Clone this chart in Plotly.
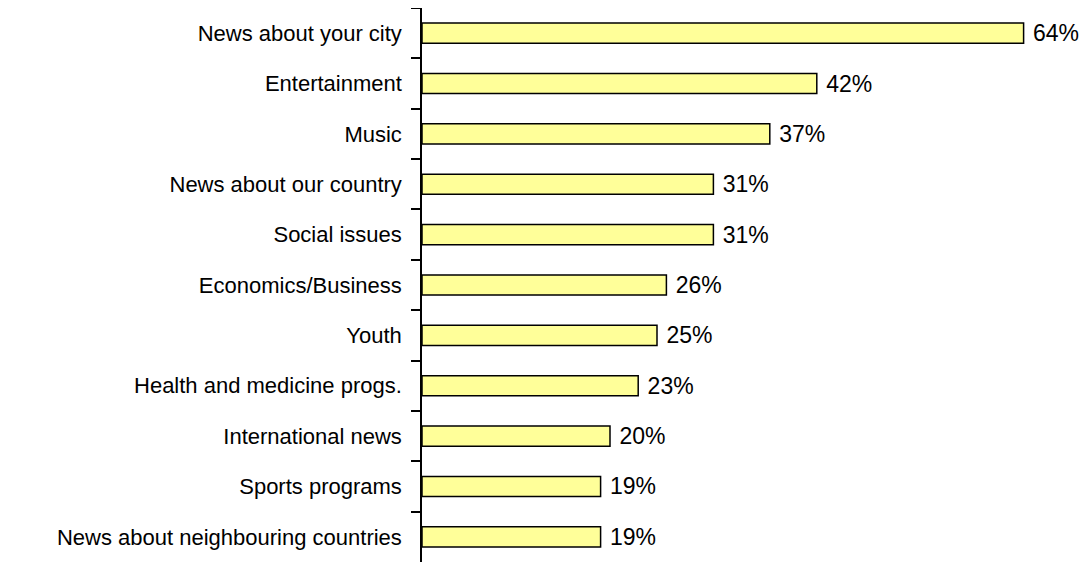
import plotly.graph_objects as go

categories = [
    "News about your city",
    "Entertainment",
    "Music",
    "News about our country",
    "Social issues",
    "Economics/Business",
    "Youth",
    "Health and medicine progs.",
    "International news",
    "Sports programs",
    "News about neighbouring countries",
]
values = [64, 42, 37, 31, 31, 26, 25, 23, 20, 19, 19]

FONT = "Arial, 'Liberation Sans', sans-serif"

fig = go.Figure(
    go.Bar(
        x=values,
        y=categories,
        orientation="h",
        width=0.4,
        marker=dict(color="#FFFF99", line=dict(color="black", width=1.5)),
        text=[f"{v}%" for v in values],
        texttemplate=" %{text}",
        textposition="outside",
        constraintext="none",
        textfont=dict(family=FONT, size=23, color="black"),
        cliponaxis=False,
    )
)

# page body adds an 8px margin, so the figure is sized to fit within the window
fig.update_layout(
    width=1083,
    height=554,
    margin=dict(l=414, r=11, t=0, b=0, autoexpand=False),
    plot_bgcolor="white",
    paper_bgcolor="white",
    showlegend=False,
    font=dict(family=FONT, size=22, color="black"),
    xaxis=dict(visible=False, range=[0, 70], automargin=False),
    yaxis=dict(
        range=[10.5, -0.5],
        automargin=False,
        showline=True,
        linecolor="black",
        linewidth=1.5,
        ticks="outside",
        tickson="boundaries",
        ticklen=9,
        tickwidth=1.5,
        tickcolor="black",
        ticklabelstandoff=14,
        showgrid=False,
        tickfont=dict(family=FONT, size=22, color="black"),
    ),
)

fig.write_html("out.html")
